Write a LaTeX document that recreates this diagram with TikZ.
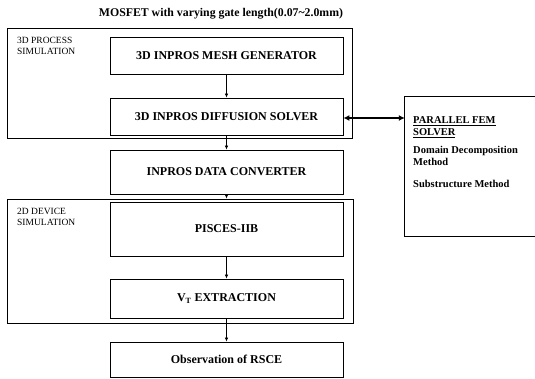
\documentclass[tikz,border=0pt]{standalone}
\usepackage{fontspec}
\setmainfont{Liberation Serif}
\usetikzlibrary{arrows.meta}
\begin{document}
\begin{tikzpicture}[x=1pt,y=-1pt,
  box/.style={draw,line width=0.8pt,minimum width=233pt,inner sep=0pt,font=\bfseries\fontsize{12}{14}\selectfont},
  outer/.style={draw,line width=0.9pt,inner sep=0pt},
  lab/.style={anchor=north west,align=left,inner sep=0pt,font=\fontsize{9.5}{11}\selectfont},
  fem/.style={anchor=west,inner sep=0pt,font=\bfseries\fontsize{10.5}{12}\selectfont},
  arr/.style={-{Latex[length=4pt,width=3.5pt]},line width=0.6pt},
  darr/.style={{Latex[length=6pt,width=6pt]}-{Latex[length=6pt,width=6pt]},line width=1.6pt}]
\useasboundingbox (0,0) rectangle (535,378);
\node[inner sep=0pt,font=\bfseries\fontsize{11.8}{13}\selectfont] (title) at (221,14) {MOSFET with varying gate length(0.07\textasciitilde 2.0mm)};
% outer boxes
\node[outer,minimum width=345pt,minimum height=110pt] (proc) at (179.5,83) {};
\node[outer,minimum width=346pt,minimum height=124pt] (dev) at (180,261) {};
\node[lab] (proclab) at (17,37) {3D PROCESS\\SIMULATION};
\node[lab] (devlab) at (17,208) {2D DEVICE\\SIMULATION};
% inner boxes
\node[box,minimum height=37pt] (mesh) at (226.5,55.5) {3D INPROS MESH GENERATOR};
\node[box,minimum height=37pt] (diff) at (226.5,116.5) {3D INPROS DIFFUSION SOLVER};
\node[box,minimum height=44pt] (conv) at (226.5,172) {INPROS DATA CONVERTER};
\node[box,minimum height=54pt] (pis) at (226.5,229) {PISCES-IIB};
\node[box,minimum height=39pt] (vt) at (226.5,298.5) {V\textsubscript{T} EXTRACTION};
\node[box,minimum height=35pt] (obs) at (226.5,359.5) {Observation of RSCE};
% right box
\node[inner sep=0pt,minimum width=130pt,minimum height=139pt] (fembox) at (470,166.5) {};
\draw[line width=0.8pt] (fembox.north east) -- (fembox.north west) -- (fembox.south west) -- (fembox.south east);
\node[fem] (f1) at (413,121) {\underline{PARALLEL FEM}};
\node[fem] (f2) at (413,133) {\underline{SOLVER}};
\node[fem] (f3) at (413,151) {Domain Decomposition};
\node[fem] (f4) at (413,162) {Method};
\node[fem] (f5) at (413,184) {Substructure Method};
% connectors
\draw[arr] (mesh) -- (diff);
\draw[arr] (diff) -- (conv);
\draw[arr] (conv.south) -- (conv.south |- dev.north);
\draw[arr] (pis) -- (vt);
\draw[arr] (vt) -- (obs);
\draw[darr] (diff.east |- 0,118) -- (fembox.west |- 0,118);
\end{tikzpicture}
\end{document}
